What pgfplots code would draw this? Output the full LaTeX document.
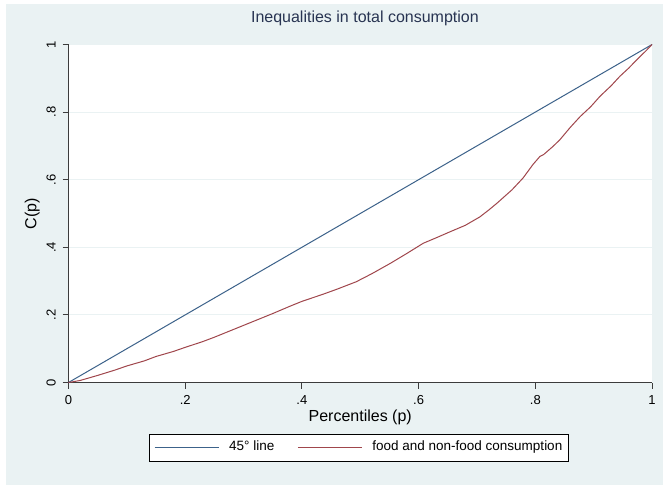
\documentclass[border=0pt]{standalone}
\usepackage{fontspec}
\setmainfont{Liberation Sans}
\usepackage{pgfplots}
\pgfplotsset{compat=1.18}
\definecolor{bgc}{RGB}{234,242,243}
\definecolor{gridc}{RGB}{234,242,243}
\definecolor{navyc}{RGB}{60,98,138}
\definecolor{maroonc}{RGB}{160,70,76}
\definecolor{titlec}{RGB}{40,52,82}
\definecolor{axc}{RGB}{60,60,60}
\begin{document}
\begin{tikzpicture}[x=1pt,y=1pt]
\useasboundingbox (0,0) rectangle (663,485);
\fill[bgc] (5.5,0) rectangle (663,481);
\begin{axis}[
  at={(68.5pt,102.5pt)}, anchor=south west,
  scale only axis, width=583.5pt, height=338pt,
  xmin=0, xmax=1, ymin=0, ymax=1,
  axis background/.style={fill=white},
  axis x line*=bottom, axis y line*=left,
  axis line style={draw=axc, line width=1.1pt},
  every tick/.style={draw=axc, line width=1pt},
  tick align=outside, major tick length=6pt,
  xtick={0,0.2,0.4,0.6,0.8,1}, xticklabels={0,.2,.4,.6,.8,1},
  ytick={0,0.2,0.4,0.6,0.8,1}, yticklabels={0,.2,.4,.6,.8,1},
  ymajorgrids, grid style={draw=gridc, line width=1pt},
  xticklabel style={font=\fontsize{13}{15}\selectfont, anchor=base, yshift=-16pt},
  yticklabel style={font=\fontsize{13}{15}\selectfont, rotate=90, anchor=base, yshift=7pt},
  title={Inequalities in total consumption},
  title style={font=\fontsize{16}{18}\selectfont, text=titlec, at={(axis description cs:0.508,1.0475)}, anchor=base},
  xlabel={Percentiles (p)},
  xlabel style={font=\fontsize{16}{18}\selectfont, at={(axis description cs:0.5,-0.115)}, anchor=base},
  ylabel={C(p)},
  ylabel style={font=\fontsize{16}{18}\selectfont, at={(axis description cs:-0.062,0.5)}, anchor=center, rotate=0},
  legend columns=2,
  legend style={at={(axis description cs:0.4983,-0.1513)}, anchor=north,
    draw=black, line width=0.7pt, fill=white,
    inner xsep=4.5pt, inner ysep=5pt,
    font=\fontsize{13.5}{15}\selectfont,
    nodes={inner sep=2pt, text height=10pt, text depth=3pt},
    /tikz/every odd column/.append style={column sep=8pt},
    /tikz/every even column/.append style={column sep=21pt}},
  legend image code/.code={\draw[#1, line width=1pt] (0pt,0pt) -- (64pt,0pt);},
  clip=false,
]
\addplot[navyc, line width=1pt] coordinates {(0,0) (1,1)};
\addlegendentry{45\textdegree\ line}
\addplot[maroonc, line width=1pt] coordinates {
(0,0) (0.02,0.006) (0.05,0.021) (0.08,0.037) (0.1,0.049) (0.13,0.064) (0.15,0.077)
(0.18,0.092) (0.2,0.104) (0.23,0.121) (0.25,0.134) (0.28,0.155) (0.3,0.169)
(0.33,0.190) (0.35,0.204) (0.38,0.226) (0.4,0.240) (0.436,0.261) (0.46,0.276)
(0.493,0.298) (0.52,0.322) (0.551,0.352) (0.58,0.382) (0.608,0.412) (0.63,0.428)
(0.654,0.446) (0.68,0.465) (0.705,0.490) (0.72,0.510) (0.734,0.530) (0.76,0.570)
(0.779,0.605) (0.796,0.645) (0.808,0.669) (0.814,0.674) (0.83,0.698) (0.842,0.718)
(0.86,0.755) (0.877,0.787) (0.895,0.816) (0.911,0.847) (0.93,0.878) (0.945,0.906)
(0.96,0.930) (0.974,0.955) (0.99,0.982) (1,1)};
\addlegendentry{food and non-food consumption}
\end{axis}
\end{tikzpicture}
\end{document}
